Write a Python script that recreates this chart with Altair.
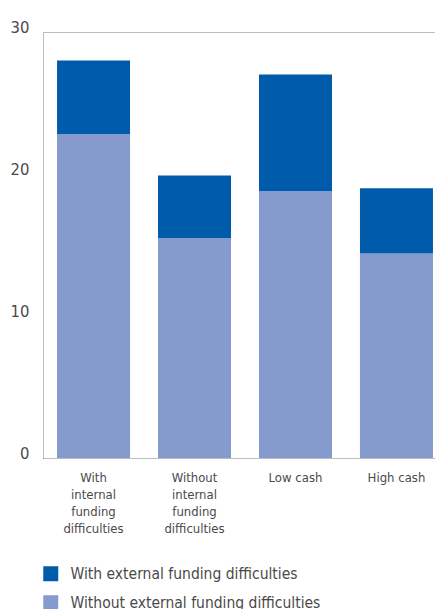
import altair as alt
import pandas as pd

categories = ["With|internal|funding|difficulties", "Without|internal|funding|difficulties", "Low cash", "High cash"]
series = ["With external funding difficulties", "Without external funding difficulties"]
without_ext = [22.8, 15.5, 18.8, 14.4]
with_ext = [5.2, 4.4, 8.2, 4.6]

rows = []
for c, a, b in zip(categories, without_ext, with_ext):
    rows.append({"cat": c, "series": series[1], "value": a, "order": 0})
    rows.append({"cat": c, "series": series[0], "value": b, "order": 1})
df = pd.DataFrame(rows)

FONT = "'DejaVu Sans Condensed', Roboto, sans-serif"
TXT = "#4a4a4a"
LINE = "#7a7a7a"

chart = alt.Chart(df).mark_bar().encode(
    x=alt.X("cat:N", sort=categories, title=None,
            scale=alt.Scale(range=[0, 404], paddingInner=0.277, paddingOuter=0.139),
            axis=alt.Axis(labelAngle=0, ticks=False, domain=True, domainColor=LINE,
                          domainDash=[1, 1], domainWidth=1, labelPadding=13,
                          labelExpr="split(datum.label, '|')", labelLineHeight=17.3,
                          labelFontSize=13, labelColor=TXT, labelFont=FONT, labelBaseline="top")),
    y=alt.Y("value:Q", stack="zero", title=None,
            scale=alt.Scale(domain=[0, 30], nice=False),
            axis=alt.Axis(values=[0, 10, 20, 30], ticks=False, domain=True, domainColor=LINE,
                          domainDash=[1, 1], domainWidth=1,
                          grid=True, gridColor=LINE, gridDash=[1, 1], gridWidth=1,
                          gridOpacity={"condition": {"test": "datum.value == 30", "value": 1}, "value": 0},
                          labelPadding=14, labelFontSize=16.5, labelColor=TXT, labelFont=FONT,
                          labelBaseline="alphabetic")),
    color=alt.Color("series:N", sort=series,
                    scale=alt.Scale(domain=series, range=["#005BAB", "#869BCD"]),
                    legend=alt.Legend(title=None, orient="none", legendX=0, legendY=534,
                                      symbolType="square", symbolSize=225, symbolStrokeWidth=0,
                                      labelFontSize=15.5, labelFont=FONT, labelColor=TXT,
                                      labelLimit=500, labelOffset=12, rowPadding=12, padding=0)),
    order=alt.Order("order:Q"),
).properties(
    width=392, height=426,
    autosize=alt.AutoSizeParams(type="none"),
    padding={"left": 35, "top": 24, "right": 0, "bottom": 151},
).configure_view(
    stroke=None
)

chart.save("out.html", embed_options={"renderer": "svg", "actions": False})
